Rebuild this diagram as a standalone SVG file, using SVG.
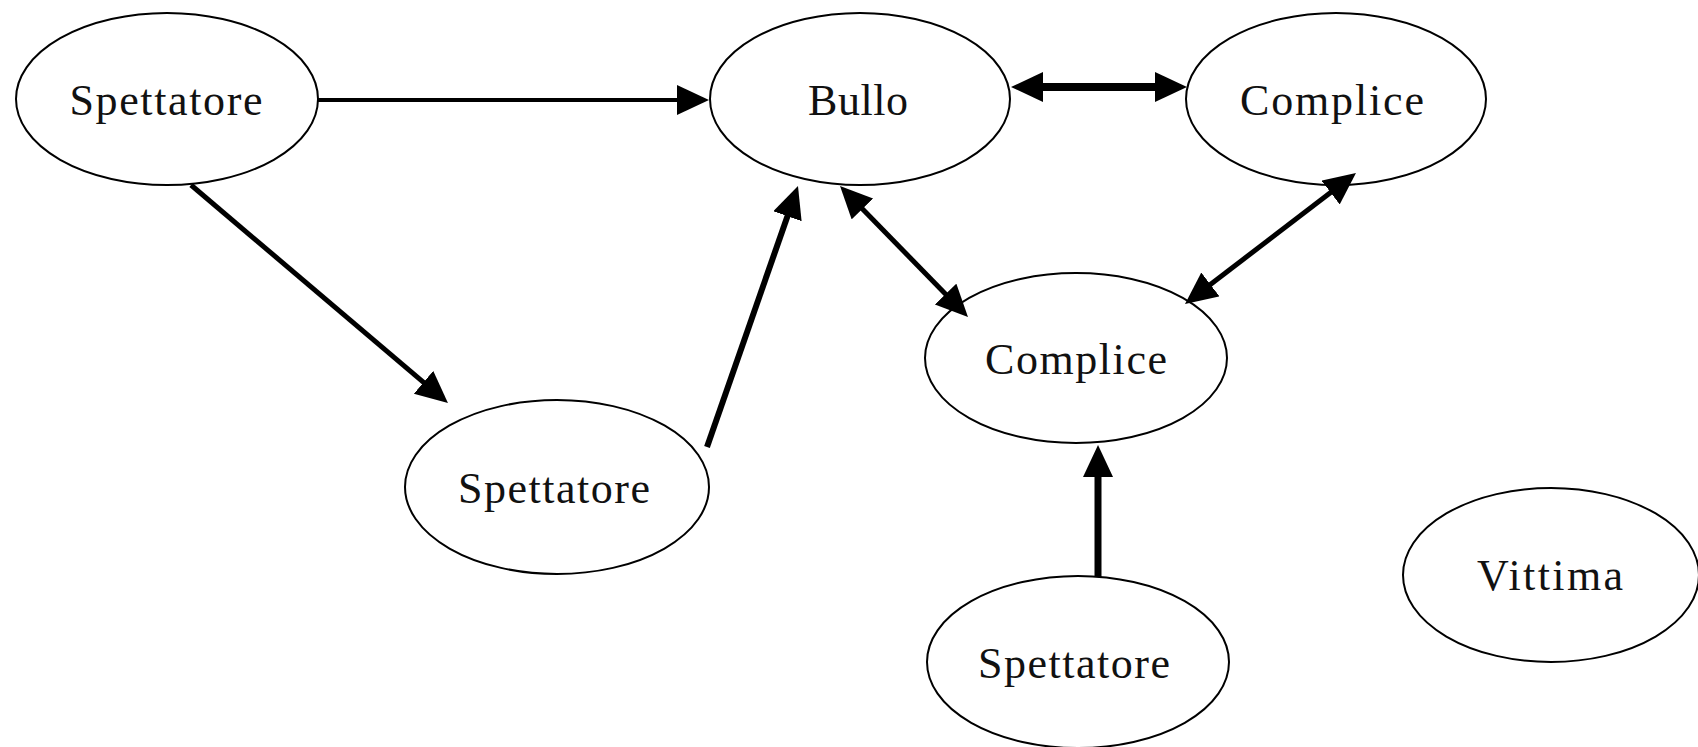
<svg xmlns="http://www.w3.org/2000/svg" width="1698" height="747" viewBox="0 0 1698 747">
<style>
.node ellipse{fill:#fff;stroke:#000;stroke-width:2}
.node text{font-family:"Liberation Serif","Times New Roman",serif;font-size:44px;fill:#111;text-anchor:middle}
.conn line{stroke:#000;stroke-linecap:butt}
</style>
<defs>
<marker id="ah" markerUnits="userSpaceOnUse" markerWidth="34" markerHeight="32" refX="12" refY="15" orient="auto-start-reverse" viewBox="0 0 34 32">
<path d="M0,0 L32,15 L0,30 z" fill="#000"/>
</marker>
</defs>
<rect width="1698" height="747" fill="#fff"/>
<g id="n-spettatore1" class="node"><ellipse cx="167" cy="99" rx="151" ry="86"/><text x="166" y="115" textLength="193" lengthAdjust="spacing">Spettatore</text></g>
<g id="n-bullo" class="node"><ellipse cx="860" cy="99" rx="150" ry="86"/><text x="858" y="115" textLength="100" lengthAdjust="spacing">Bullo</text></g>
<g id="n-complice1" class="node"><ellipse cx="1336" cy="99" rx="150" ry="86"/><text x="1332" y="115" textLength="184" lengthAdjust="spacing">Complice</text></g>
<g id="n-complice2" class="node"><ellipse cx="1076" cy="358" rx="151" ry="85"/><text x="1076" y="374" textLength="182" lengthAdjust="spacing">Complice</text></g>
<g id="n-spettatore2" class="node"><ellipse cx="557" cy="487" rx="152" ry="87"/><text x="554" y="503" textLength="192" lengthAdjust="spacing">Spettatore</text></g>
<g id="n-spettatore3" class="node"><ellipse cx="1078" cy="662" rx="151" ry="86"/><text x="1074" y="678" textLength="192" lengthAdjust="spacing">Spettatore</text></g>
<g id="n-vittima" class="node"><ellipse cx="1551" cy="575" rx="148" ry="87"/><text x="1550" y="590" textLength="146" lengthAdjust="spacing">Vittima</text></g>
<g id="connectors" class="conn">
<line x1="317" y1="100" x2="689" y2="100" stroke-width="4" marker-end="url(#ah)"/>
<line x1="1031" y1="87" x2="1167" y2="87" stroke-width="8" marker-start="url(#ah)" marker-end="url(#ah)"/>
<line x1="191" y1="185" x2="432.7" y2="390.1" stroke-width="5" marker-end="url(#ah)"/>
<line x1="707" y1="447" x2="791.4" y2="204.9" stroke-width="6" marker-end="url(#ah)"/>
<line x1="854" y1="200.3" x2="954" y2="302.7" stroke-width="5" marker-start="url(#ah)" marker-end="url(#ah)"/>
<line x1="1340.1" y1="185.2" x2="1200.9" y2="291.8" stroke-width="5" marker-start="url(#ah)" marker-end="url(#ah)"/>
<line x1="1098" y1="577" x2="1098" y2="465" stroke-width="7" marker-end="url(#ah)"/>
</g>
</svg>
